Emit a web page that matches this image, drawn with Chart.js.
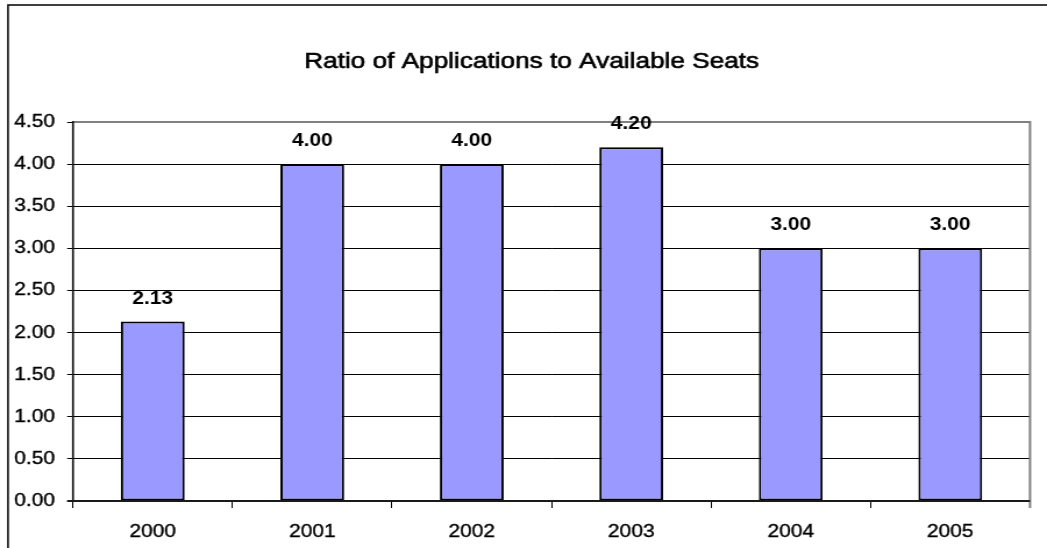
<!DOCTYPE html>
<html>
<head>
<meta charset="utf-8">
<title>Ratio of Applications to Available Seats</title>
<script src="https://cdn.jsdelivr.net/npm/chart.js@4/dist/chart.umd.min.js"></script>
<style>
  html, body { margin: 0; padding: 0; background: #fff; overflow: hidden; }
</style>
</head>
<body>
<!-- the drawing surface is rendered narrower and widened to the page width -->
<canvas id="chart" width="900" height="548" style="display:block;width:1047px;height:548px"></canvas>
<script>
// ---- data ----
const chartTitle = 'Ratio of Applications to Available Seats';
const years = ['2000', '2001', '2002', '2003', '2004', '2005'];
const ratios = [2.13, 4.00, 4.00, 4.20, 3.00, 3.00];
const yTickValues = [0.00, 0.50, 1.00, 1.50, 2.00, 2.50, 3.00, 3.50, 4.00, 4.50];

// ---- look ----
const FONT = '"Liberation Sans", Arial, Helvetica, sans-serif';
const BAR_FILL = '#9999FF';
const INK = '#000000';
const PLOT_EDGE = '#808080';

// white page, frame lines, and the title above the plot
const framePlugin = {
  id: 'frame',
  beforeDraw(chart) {
    const ctx = chart.ctx;
    ctx.save();
    ctx.fillStyle = '#ffffff';
    ctx.fillRect(0, 0, chart.width, chart.height);
    ctx.strokeStyle = INK;
    ctx.lineWidth = 1.5;
    ctx.beginPath();
    ctx.moveTo(6.9, chart.height + 2);
    ctx.lineTo(6.9, 5);
    ctx.lineTo(chart.width + 2, 5);
    ctx.stroke();

    ctx.fillStyle = INK;
    ctx.strokeStyle = INK;
    ctx.lineWidth = 0.6;
    ctx.font = '22.5px ' + FONT;
    ctx.textAlign = 'center';
    ctx.textBaseline = 'alphabetic';
    ctx.fillText(chartTitle, 457, 68);
    ctx.strokeText(chartTitle, 457, 68);
    ctx.restore();
  }
};

// plot area outline plus the value printed over every bar
const plotPlugin = {
  id: 'plotOutline',
  afterDatasetsDraw(chart) {
    const ctx = chart.ctx;
    const a = chart.chartArea;
    ctx.save();
    ctx.lineCap = 'butt';
    // top and right edge in grey
    ctx.strokeStyle = PLOT_EDGE;
    ctx.lineWidth = 2;
    ctx.beginPath();
    ctx.moveTo(a.left, a.top);
    ctx.lineTo(a.right, a.top);
    ctx.lineTo(a.right, a.bottom + 7);
    ctx.stroke();
    // value axis and category axis lines
    ctx.strokeStyle = '#1a1a1a';
    ctx.lineWidth = 1.7;
    ctx.beginPath();
    ctx.moveTo(a.left, a.top - 1);
    ctx.lineTo(a.left, a.bottom + 1);
    ctx.stroke();
    ctx.lineWidth = 2;
    ctx.beginPath();
    ctx.moveTo(a.left - 5, a.bottom);
    ctx.lineTo(a.right, a.bottom);
    ctx.stroke();

    // data labels
    const meta = chart.getDatasetMeta(0);
    ctx.fillStyle = INK;
    ctx.font = 'bold 18px ' + FONT;
    ctx.textAlign = 'center';
    ctx.textBaseline = 'alphabetic';
    meta.data.forEach((bar, i) => {
      const v = chart.data.datasets[0].data[i];
      ctx.fillText(v.toFixed(2), bar.x, bar.y - 18);
    });
    ctx.restore();
  }
};

const chart = new Chart(document.getElementById('chart'), {
  type: 'bar',
  data: {
    labels: years,
    datasets: [{
      data: ratios,
      backgroundColor: BAR_FILL,
      borderColor: INK,
      borderWidth: 2,
      borderSkipped: false,
      categoryPercentage: 1.0,
      barPercentage: 0.4
    }]
  },
  plugins: [framePlugin, plotPlugin],
  options: {
    responsive: false,
    devicePixelRatio: 1,
    animation: false,
    events: [],
    layout: { padding: { top: 122, right: 14.6, left: 0, bottom: 0 } },
    plugins: {
      legend: { display: false },
      title: { display: false },
      tooltip: { enabled: false }
    },
    scales: {
      x: {
        offset: true,
        grid: {
          offset: true,
          drawOnChartArea: false,
          drawTicks: true,
          tickLength: 7,
          color: INK,
          lineWidth: 1
        },
        border: { display: false },
        ticks: {
          color: INK,
          padding: 13,
          font: { family: FONT, size: 18 },
          textStrokeColor: INK,
          textStrokeWidth: 0.35,
          maxRotation: 0
        },
        afterFit(scale) { scale.height = 47; }
      },
      y: {
        min: 0,
        max: 4.5,
        afterBuildTicks(scale) {
          scale.ticks = yTickValues.map(v => ({ value: v }));
        },
        grid: {
          color: INK,
          lineWidth: 1,
          drawTicks: true,
          tickLength: 5
        },
        border: { display: false },
        ticks: {
          color: INK,
          padding: 10.5,
          font: { family: FONT, size: 18 },
          textStrokeColor: INK,
          textStrokeWidth: 0.35,
          callback: v => Number(v).toFixed(2)
        },
        afterFit(scale) { scale.width = 62.75; }
      }
    }
  }
});
// keep the widened display size
chart.canvas.style.width = '1047px';
chart.canvas.style.height = '548px';
</script>
</body>
</html>
